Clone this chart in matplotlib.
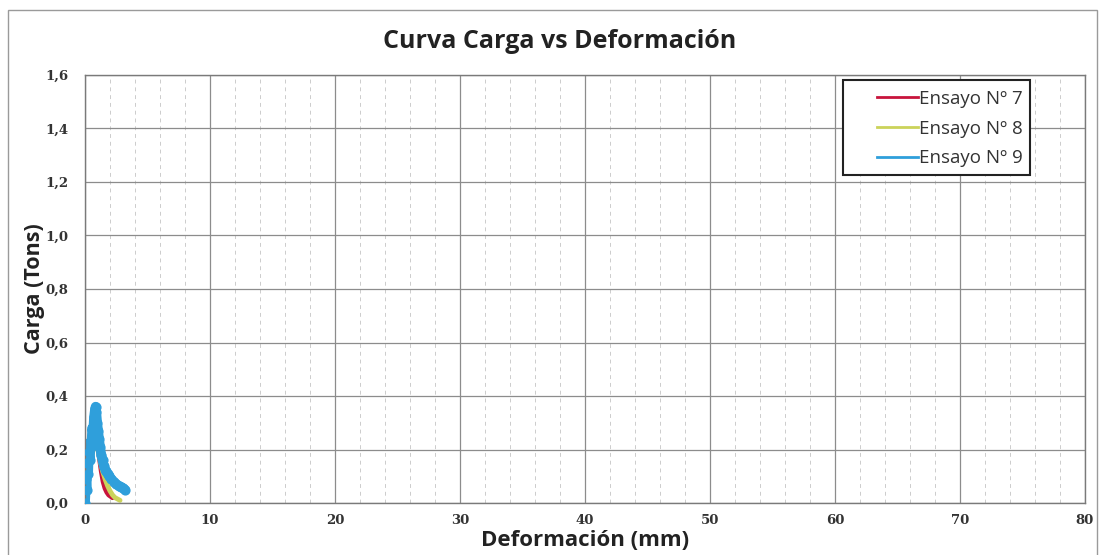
import matplotlib.pyplot as plt
from matplotlib.patches import Rectangle
from matplotlib.ticker import MultipleLocator, FuncFormatter

# Ensayo Nº 7
x7 = [0.0, 0.1, 0.2, 0.3, 0.45, 0.6, 0.75, 0.85, 0.95, 1.05, 1.15, 1.3, 1.45, 1.6, 1.75, 1.9, 2.05, 2.2]
y7 = [0.0, 0.06, 0.10, 0.13, 0.18, 0.24, 0.29, 0.31, 0.28, 0.22, 0.17, 0.12, 0.08, 0.055, 0.04, 0.03, 0.025, 0.02]

# Ensayo Nº 8
x8 = [0.0, 0.1, 0.2, 0.35, 0.5, 0.65, 0.8, 0.9, 1.0, 1.1, 1.25, 1.4, 1.6, 1.8, 2.0, 2.2, 2.4, 2.6, 2.8]
y8 = [0.0, 0.05, 0.09, 0.12, 0.16, 0.20, 0.24, 0.25, 0.23, 0.19, 0.15, 0.12, 0.09, 0.065, 0.045, 0.03, 0.02, 0.015, 0.01]

# Ensayo Nº 9
x9 = [0.0, 0.08, 0.12, 0.18, 0.25, 0.3, 0.38, 0.45, 0.5, 0.58, 0.65, 0.72, 0.8, 0.85, 0.9, 0.97,
      1.05, 1.12, 1.2, 1.3, 1.4, 1.5, 1.65, 1.8, 1.95, 2.1, 2.3, 2.5, 2.7, 2.9, 3.05, 3.2]
y9 = [0.0, 0.09, 0.05, 0.15, 0.11, 0.19, 0.16, 0.23, 0.21, 0.28, 0.26, 0.32, 0.35, 0.36, 0.34, 0.30,
      0.27, 0.24, 0.21, 0.18, 0.16, 0.14, 0.12, 0.11, 0.10, 0.09, 0.08, 0.07, 0.065, 0.06, 0.055, 0.05]

series = [
    ("Ensayo Nº 7", x7, y7, "#c8143c"),
    ("Ensayo Nº 8", x8, y8, "#cbd35a"),
    ("Ensayo Nº 9", x9, y9, "#2f9fdb"),
]

W, H = 1101, 555
fig = plt.figure(figsize=(W / 100, H / 100), dpi=100)
ax = fig.add_axes([85 / W, 1 - 503 / H, 1000 / W, 428 / H])

# marco exterior del grafico
fig.patches.append(Rectangle((8 / W, -0.05), 1089 / W, 1.05 - 10 / H, transform=fig.transFigure,
                             fill=False, edgecolor="#9a9a9a", linewidth=1.0))

for name, xs, ys, col in series:
    if name.endswith("9"):
        ax.plot(xs, ys, color=col, linewidth=7, solid_capstyle="round", solid_joinstyle="round")
        ax.scatter(xs, ys, s=40, color=col, zorder=3)
    else:
        ax.plot(xs, ys, color=col, linewidth=3.5, solid_capstyle="round", solid_joinstyle="round")

ax.set_xlim(0, 80)
ax.set_ylim(0, 1.6)
ax.xaxis.set_major_locator(MultipleLocator(10))
ax.xaxis.set_minor_locator(MultipleLocator(2))
ax.yaxis.set_major_locator(MultipleLocator(0.2))
ax.yaxis.set_major_formatter(FuncFormatter(lambda v, p: f"{v:.1f}".replace(".", ",")))

ax.grid(which="major", color="#8c8c8c", linewidth=0.9)
ax.grid(which="minor", axis="x", color="#cccccc", linewidth=0.7, linestyle=(0, (4, 4)))
ax.set_axisbelow(True)
for s in ax.spines.values():
    s.set_color("#7a7a7a")
    s.set_linewidth(1.0)
ax.tick_params(which="both", length=0)
ax.tick_params(axis="x", pad=8)
ax.tick_params(axis="y", pad=12)
for lab in ax.get_xticklabels() + ax.get_yticklabels():
    lab.set_fontfamily("DejaVu Serif")
    lab.set_fontweight("bold")
    lab.set_fontsize(9.5)
    lab.set_color("#333333")

fig.text(560 / W, 1 - 41 / H, "Curva Carga vs Deformación", fontfamily="Open Sans",
         fontweight="bold", fontsize=18, color="#222222", ha="center", va="center")
ax.set_xlabel("Deformación (mm)", fontfamily="Open Sans", fontweight="bold", fontsize=16,
              color="#222222", labelpad=2)
ax.set_ylabel("Carga (Tons)", fontfamily="Open Sans", fontweight="bold", fontsize=15.5,
              color="#222222", labelpad=0)

# leyenda: recuadro aparte, entradas alineadas a la derecha
fig.patches.append(Rectangle((843 / W, 1 - 175 / H), 187 / W, 95 / H, transform=fig.transFigure,
                             facecolor="white", edgecolor="#222222", linewidth=1.5, zorder=4))
handles = [plt.Line2D([], [], color=c, linewidth=2.0) for _, _, _, c in series]
leg = fig.legend(handles, [s[0] for s in series], loc="upper right",
                 bbox_to_anchor=(1038 / W, 1 - 75 / H), frameon=False,
                 handlelength=2.2, handletextpad=0.05, borderpad=0.3, labelspacing=0.62,
                 prop={"family": "Open Sans", "size": 13.5})
leg.set_zorder(5)
for t in leg.get_texts():
    t.set_color("#333333")

fig.savefig("out.png", dpi=100)
